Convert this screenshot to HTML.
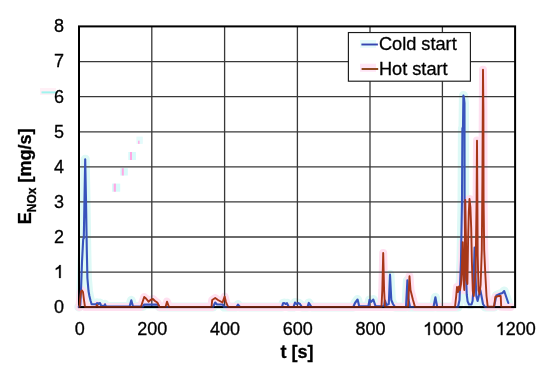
<!DOCTYPE html>
<html><head><meta charset="utf-8"><style>
html,body{margin:0;padding:0;background:#fff;}
body{width:550px;height:370px;overflow:hidden;}
svg{display:block;will-change:transform;}
text{font-family:"Liberation Sans",sans-serif;fill:#000;stroke:#000;stroke-width:0.3px;}
</style></head><body>
<svg width="550" height="370" viewBox="0 0 550 370">
<rect width="550" height="370" fill="#fff"/>
<g fill="none" stroke-linejoin="round" stroke-linecap="round">
<polyline points="78.8,307.0 80.3,305.0 81.0,290.0 82.0,262.0 83.2,239.0 83.8,238.5 85.2,159.2 86.0,200.0 86.8,250.0 87.4,278.0 88.5,291.0 89.4,296.0 90.5,300.5 91.6,304.2 96.0,304.2 97.2,303.0 98.5,303.9 100.0,303.0 101.0,305.5 104.0,306.2 105.0,304.3 106.0,306.6 129.6,306.6 131.3,300.3 133.0,306.6 143.0,306.6 144.0,304.6 158.0,304.6 159.5,307.0 213.0,307.0 215.2,302.5 217.0,304.5 223.0,304.5 224.0,307.0 236.5,307.0 238.0,304.6 240.0,307.0 282.0,307.0 283.0,303.3 284.2,303.0 285.6,304.0 287.0,303.2 288.8,307.0 293.5,307.0 295.0,302.5 296.5,304.0 298.0,303.0 300.0,304.0 301.9,307.0 307.5,307.0 308.8,302.9 311.5,307.0 353.3,307.0 355.0,303.0 357.6,299.5 359.2,306.2 368.4,306.2 369.5,299.9 371.0,302.0 373.3,299.5 375.5,306.2 384.0,306.2 385.0,300.5 386.5,305.0 388.8,304.0 390.0,274.5 391.3,300.0 393.0,304.0 395.0,307.0 406.0,307.0 407.4,280.3 408.6,300.0 410.0,307.0 433.5,307.0 435.4,297.2 437.2,307.0 458.0,307.0 459.5,300.0 461.0,260.0 462.0,200.0 462.4,128.5 463.0,127.0 463.2,110.0 463.4,95.5 464.1,99.0 464.5,103.0 464.6,200.0 465.4,260.0 466.8,295.0 467.6,301.3 469.0,304.5 471.5,304.5 472.6,301.0 473.3,290.0 474.6,247.6 475.4,272.0 476.3,296.0 477.6,301.0 479.0,295.0 480.3,290.0 481.5,296.0 483.0,304.0 485.0,307.0 494.0,307.0 496.4,295.4 500.2,293.8 502.5,293.0 504.2,291.0 508.3,303.0" stroke="#def9f6" stroke-width="9"/>
<polyline points="79.5,307.0 80.0,300.0 81.0,291.5 82.0,290.5 83.0,292.0 84.0,300.0 85.0,307.0 96.0,307.0 97.0,305.0 98.0,307.0 140.9,307.0 144.2,297.0 146.0,298.5 148.5,301.7 150.5,300.0 152.9,299.0 155.0,301.0 157.3,302.5 159.5,307.0 165.5,307.0 167.0,301.7 169.0,307.0 211.5,307.0 212.2,300.0 215.2,298.0 218.0,300.0 222.5,302.5 224.6,296.6 226.0,302.0 228.0,306.8 229.0,307.0 381.5,307.0 382.3,290.0 383.2,252.9 384.1,290.0 385.0,307.0 408.0,307.0 409.5,276.2 410.5,290.0 412.8,299.2 415.0,307.0 455.0,307.0 456.2,296.0 457.0,287.0 458.0,292.0 459.0,286.5 460.0,290.0 461.0,284.0 461.8,268.0 462.7,242.3 463.5,280.0 464.3,290.0 465.3,200.0 465.9,235.0 466.6,280.0 467.4,284.0 468.1,240.0 468.8,212.0 469.5,199.0 470.4,207.0 471.2,228.0 471.9,262.0 472.8,291.0 473.8,296.0 475.6,270.0 476.6,200.0 477.0,140.6 477.4,200.0 477.7,255.0 478.5,290.0 479.5,294.0 480.6,285.0 481.8,250.0 482.4,180.0 483.0,69.8 483.4,110.0 483.6,200.0 484.2,250.0 485.2,272.0 486.5,296.0 487.3,303.0 487.7,306.8 494.0,306.8 495.3,297.0 498.5,296.0 500.7,296.0 501.2,306.8 510.5,307.0" stroke="#ffe0f0" stroke-width="8"/>
</g>
<g>
<rect x="136.4" y="136.6" width="6.4" height="7.3" fill="#e4fbfb"/>
<rect x="138" y="140.7" width="1.6" height="3.2" fill="#ffb0e6"/>
<rect x="128.3" y="152" width="7.6" height="8" fill="#d8fafa"/>
<rect x="130" y="152" width="2" height="8" fill="#ffa8e4"/>
<rect x="120.2" y="168.2" width="7.6" height="7.3" fill="#d8fafa"/>
<rect x="121.8" y="168.2" width="2" height="7.3" fill="#ffa8e4"/>
<rect x="112" y="183.6" width="8.2" height="8.1" fill="#d8fafa"/>
<rect x="113.7" y="183.6" width="2.2" height="8.1" fill="#ffa8e4"/>
<rect x="40" y="88" width="16" height="7" fill="#fff0f6"/>
<rect x="41.5" y="91.4" width="16.4" height="2" fill="#a0f4ee"/>
</g>
<g stroke="#383838" stroke-width="1.3" fill="none">
<line x1="79.0" y1="272.20" x2="515.1" y2="272.20"/>
<line x1="79.0" y1="237.00" x2="515.1" y2="237.00"/>
<line x1="79.0" y1="201.90" x2="515.1" y2="201.90"/>
<line x1="79.0" y1="166.90" x2="515.1" y2="166.90"/>
<line x1="79.0" y1="131.85" x2="515.1" y2="131.85"/>
<line x1="79.0" y1="96.70" x2="515.1" y2="96.70"/>
<line x1="79.0" y1="61.60" x2="515.1" y2="61.60"/>
<line x1="151.80" y1="26.4" x2="151.80" y2="307.1"/>
<line x1="224.60" y1="26.4" x2="224.60" y2="307.1"/>
<line x1="297.40" y1="26.4" x2="297.40" y2="307.1"/>
<line x1="370.00" y1="26.4" x2="370.00" y2="307.1"/>
<line x1="442.40" y1="26.4" x2="442.40" y2="307.1"/>
</g>
<rect x="79.0" y="26.4" width="436.1" height="280.7" fill="none" stroke="#000" stroke-width="2"/>
<g fill="none" stroke-linejoin="round" stroke-linecap="round">
<polyline points="78.8,307.0 80.3,305.0 81.0,290.0 82.0,262.0 83.2,239.0 83.8,238.5 85.2,159.2 86.0,200.0 86.8,250.0 87.4,278.0 88.5,291.0 89.4,296.0 90.5,300.5 91.6,304.2 96.0,304.2 97.2,303.0 98.5,303.9 100.0,303.0 101.0,305.5 104.0,306.2 105.0,304.3 106.0,306.6 129.6,306.6 131.3,300.3 133.0,306.6 143.0,306.6 144.0,304.6 158.0,304.6 159.5,307.0 213.0,307.0 215.2,302.5 217.0,304.5 223.0,304.5 224.0,307.0 236.5,307.0 238.0,304.6 240.0,307.0 282.0,307.0 283.0,303.3 284.2,303.0 285.6,304.0 287.0,303.2 288.8,307.0 293.5,307.0 295.0,302.5 296.5,304.0 298.0,303.0 300.0,304.0 301.9,307.0 307.5,307.0 308.8,302.9 311.5,307.0 353.3,307.0 355.0,303.0 357.6,299.5 359.2,306.2 368.4,306.2 369.5,299.9 371.0,302.0 373.3,299.5 375.5,306.2 384.0,306.2 385.0,300.5 386.5,305.0 388.8,304.0 390.0,274.5 391.3,300.0 393.0,304.0 395.0,307.0 406.0,307.0 407.4,280.3 408.6,300.0 410.0,307.0 433.5,307.0 435.4,297.2 437.2,307.0 458.0,307.0 459.5,300.0 461.0,260.0 462.0,200.0 462.4,128.5 463.0,127.0 463.2,110.0 463.4,95.5 464.1,99.0 464.5,103.0 464.6,200.0 465.4,260.0 466.8,295.0 467.6,301.3 469.0,304.5 471.5,304.5 472.6,301.0 473.3,290.0 474.6,247.6 475.4,272.0 476.3,296.0 477.6,301.0 479.0,295.0 480.3,290.0 481.5,296.0 483.0,304.0 485.0,307.0 494.0,307.0 496.4,295.4 500.2,293.8 502.5,293.0 504.2,291.0 508.3,303.0" stroke="#3853bc" stroke-width="2.1"/>
<polyline points="79.5,307.0 80.0,300.0 81.0,291.5 82.0,290.5 83.0,292.0 84.0,300.0 85.0,307.0 96.0,307.0 97.0,305.0 98.0,307.0 140.9,307.0 144.2,297.0 146.0,298.5 148.5,301.7 150.5,300.0 152.9,299.0 155.0,301.0 157.3,302.5 159.5,307.0 165.5,307.0 167.0,301.7 169.0,307.0 211.5,307.0 212.2,300.0 215.2,298.0 218.0,300.0 222.5,302.5 224.6,296.6 226.0,302.0 228.0,306.8 229.0,307.0 381.5,307.0 382.3,290.0 383.2,252.9 384.1,290.0 385.0,307.0 408.0,307.0 409.5,276.2 410.5,290.0 412.8,299.2 415.0,307.0 455.0,307.0 456.2,296.0 457.0,287.0 458.0,292.0 459.0,286.5 460.0,290.0 461.0,284.0 461.8,268.0 462.7,242.3 463.5,280.0 464.3,290.0 465.3,200.0 465.9,235.0 466.6,280.0 467.4,284.0 468.1,240.0 468.8,212.0 469.5,199.0 470.4,207.0 471.2,228.0 471.9,262.0 472.8,291.0 473.8,296.0 475.6,270.0 476.6,200.0 477.0,140.6 477.4,200.0 477.7,255.0 478.5,290.0 479.5,294.0 480.6,285.0 481.8,250.0 482.4,180.0 483.0,69.8 483.4,110.0 483.6,200.0 484.2,250.0 485.2,272.0 486.5,296.0 487.3,303.0 487.7,306.8 494.0,306.8 495.3,297.0 498.5,296.0 500.7,296.0 501.2,306.8 510.5,307.0" stroke="#a63618" stroke-width="1.9"/>
</g>
<line x1="79.0" y1="307.10" x2="515.1" y2="307.10" stroke="#000" stroke-width="1.6" stroke-opacity="0.45"/>
<g>
<rect x="348.4" y="32.55" width="122" height="48.65" fill="#fff" stroke="#1a1a1a" stroke-width="1.15"/>
<rect x="360" y="40" width="16" height="7.8" fill="#e6fbfb"/>
<line x1="361.4" y1="44.5" x2="377.9" y2="44.5" stroke="#3545b0" stroke-width="1.9"/>
<rect x="360" y="63.7" width="16" height="8.1" fill="#ffe6f6"/>
<line x1="361.6" y1="69" x2="378.2" y2="69" stroke="#8a4216" stroke-width="1.9"/>
<text x="378.9" y="50.3" font-size="18.2">Cold start</text>
<text x="378.9" y="74.7" font-size="18.2">Hot start</text>
</g>
<g font-size="18">
<text x="64" y="313.05" text-anchor="end">0</text>
<path d="M763 0L583 0L583 1147Q505 1072 405 1010Q300 950 205 918L205 1092Q360 1160 470 1265Q575 1365 625 1466L763 1466Z" transform="translate(53.99,277.97) scale(0.008789,-0.008789)" fill="#000" stroke="#000" stroke-width="0.3" vector-effect="non-scaling-stroke"/>
<text x="64" y="242.89" text-anchor="end">2</text>
<text x="64" y="207.81" text-anchor="end">3</text>
<text x="64" y="172.72" text-anchor="end">4</text>
<text x="64" y="137.64" text-anchor="end">5</text>
<text x="64" y="102.56" text-anchor="end">6</text>
<text x="64" y="67.48" text-anchor="end">7</text>
<text x="64" y="32.40" text-anchor="end">8</text>
<text x="79.70" y="335.1" text-anchor="middle">0</text>
<text x="152.38" y="335.1" text-anchor="middle">200</text>
<text x="225.07" y="335.1" text-anchor="middle">400</text>
<text x="297.75" y="335.1" text-anchor="middle">600</text>
<text x="370.43" y="335.1" text-anchor="middle">800</text>
<path d="M763 0L583 0L583 1147Q505 1072 405 1010Q300 950 205 918L205 1092Q360 1160 470 1265Q575 1365 625 1466L763 1466Z" transform="translate(423.10,335.10) scale(0.008789,-0.008789)" fill="#000" stroke="#000" stroke-width="0.3" vector-effect="non-scaling-stroke"/>
<text x="433.11" y="335.1">000</text>
<path d="M763 0L583 0L583 1147Q505 1072 405 1010Q300 950 205 918L205 1092Q360 1160 470 1265Q575 1365 625 1466L763 1466Z" transform="translate(495.78,335.10) scale(0.008789,-0.008789)" fill="#000" stroke="#000" stroke-width="0.3" vector-effect="non-scaling-stroke"/>
<text x="505.79" y="335.1">200</text>
</g>
<text x="297.1" y="358" font-size="18" font-weight="bold" text-anchor="middle">t [s]</text>
<text transform="translate(31.4,224.3) rotate(-90)" font-size="18" font-weight="bold">E<tspan font-size="12" dy="4.3">NOx</tspan><tspan dy="-4.3"> [mg/s]</tspan></text>
</svg>
</body></html>
